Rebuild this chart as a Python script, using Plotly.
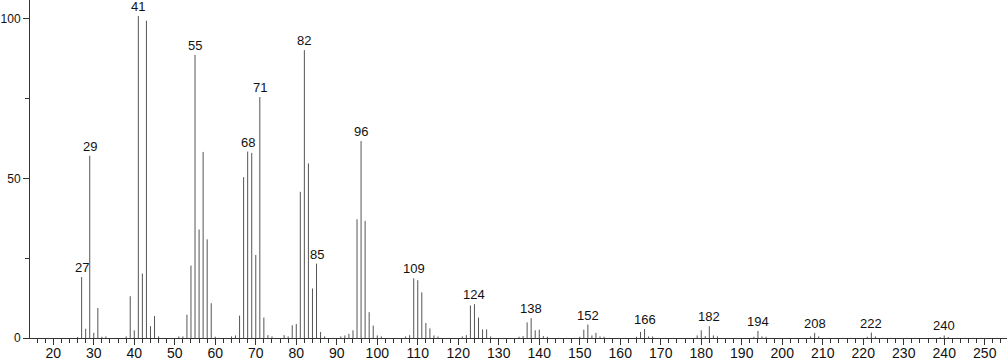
import plotly.graph_objects as go

mz = [26, 27, 28, 29, 30, 31, 32, 33, 38, 39, 40, 41, 42, 43, 44, 45, 46,
      51, 52, 53, 54, 55, 56, 57, 58, 59, 60, 64, 65, 66, 67, 68, 69, 70,
      71, 72, 73, 74, 77, 78, 79, 80, 81, 82, 83, 84, 85, 86, 87, 91, 92,
      93, 94, 95, 96, 97, 98, 99, 100, 101, 107, 108, 109, 110, 111, 112,
      113, 114, 115, 121, 122, 123, 124, 125, 126, 127, 128, 135, 136, 137,
      138, 139, 140, 141, 142, 150, 151, 152, 153, 154, 155, 156, 164, 165,
      166, 167, 168, 179, 180, 181, 182, 183, 184, 193, 194, 195, 196, 207,
      208, 209, 221, 222, 223, 239, 240, 241]
intensity = [0.3, 19.1, 2.9, 57.1, 1.6, 9.4, 0.4, 0.5, 0.5, 13.1, 2.4, 100.9,
             20.2, 99.4, 3.7, 6.9, 0.5, 0.5, 0.5, 7.3, 22.7, 88.7, 34.0, 58.3,
             30.9, 10.9, 0.4, 0.5, 0.8, 7.0, 50.4, 58.4, 58.0, 26.0, 75.5, 6.4,
             0.9, 0.5, 0.9, 0.5, 4.0, 4.4, 45.8, 90.2, 54.7, 15.5, 23.3, 1.9,
             0.5, 0.5, 0.8, 1.3, 2.4, 37.2, 61.7, 36.7, 8.1, 3.9, 0.8, 0.5,
             0.5, 0.9, 18.7, 18.1, 14.3, 4.7, 3.0, 0.8, 0.5, 0.5, 0.9, 10.2,
             10.6, 6.4, 2.7, 2.7, 0.5, 0.4, 0.6, 4.9, 6.2, 2.4, 2.6, 0.6, 0.4,
             0.4, 2.6, 4.2, 0.8, 1.6, 0.5, 0.4, 0.4, 1.9, 2.8, 0.5, 0.5, 0.8,
             2.4, 0.6, 3.7, 0.8, 0.5, 0.4, 2.2, 0.5, 0.4, 0.5, 1.6, 0.5, 0.4,
             1.7, 0.5, 0.3, 0.8, 0.3]
labeled_peaks = [27, 29, 41, 55, 68, 71, 82, 85, 96, 109, 124, 138, 152,
                 166, 182, 194, 208, 222, 240]

xs, ys = [], []
for m, v in zip(mz, intensity):
    xs += [m, m, None]
    ys += [0, v, None]

fig = go.Figure()
fig.add_trace(go.Scatter(x=xs, y=ys, mode="lines",
                         line=dict(color="#555555", width=1),
                         hoverinfo="skip", showlegend=False))

lookup = dict(zip(mz, intensity))
for p in labeled_peaks:
    fig.add_annotation(x=p, y=lookup[p], text=str(p), showarrow=False,
                       xanchor="center", yanchor="bottom", yshift=0,
                       font=dict(family="Liberation Sans, Arial", size=13,
                                 color="#111"))

fig.update_layout(
    width=1007, height=362,
    margin=dict(l=30, r=0, t=0, b=24),
    plot_bgcolor="white", paper_bgcolor="white",
    font=dict(family="Liberation Sans, Arial", size=13, color="#111"),
)
fig.update_xaxes(
    range=[14.25, 255.5], showgrid=False, zeroline=False, automargin=False,
    showline=True, linecolor="#333", linewidth=1,
    tickmode="linear", tick0=0, dtick=10, ticks="outside", ticklen=6,
    tickcolor="#333", tickwidth=1,
    minor=dict(tickmode="linear", tick0=0, dtick=2, ticks="outside",
               ticklen=4, tickcolor="#333", tickwidth=1),
    tickfont=dict(family="Liberation Sans, Arial", size=14),
    ticklabelstandoff=-4,
)
fig.update_yaxes(
    range=[0, 105.9], showgrid=False, zeroline=False, automargin=False,
    showline=True, linecolor="#333", linewidth=1,
    tickmode="array", tickvals=[0, 50, 100], ticktext=["0", "50", "100"],
    ticks="outside", ticklen=6, tickcolor="#333", tickwidth=1,
    minor=dict(tickmode="array", tickvals=[25, 75], ticks="outside",
               ticklen=4, tickcolor="#333", tickwidth=1),
    tickfont=dict(size=12), ticklabelstandoff=0,
)

fig.write_html("out.html")
